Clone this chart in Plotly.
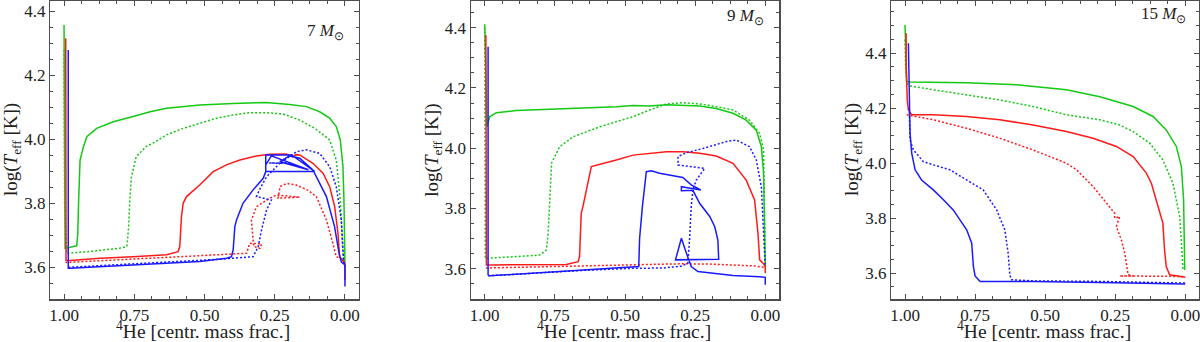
import plotly.graph_objects as go

# ---------------- Panel 1 : 7 Msun ----------------
p7_gs_x = [1.0, 0.9995, 0.9964, 0.955, 0.951, 0.948, 0.943, 0.931, 0.919, 0.884, 0.825, 0.754, 0.694, 0.635, 0.517, 0.398, 0.280, 0.197, 0.137, 0.090, 0.0545, 0.0308, 0.0166, 0.0071, 0.0036, 0.0]
p7_gs_y = [4.357, 4.0, 3.659, 3.667, 3.706, 3.81, 3.935, 3.977, 4.008, 4.034, 4.055, 4.071, 4.086, 4.097, 4.107, 4.112, 4.115, 4.109, 4.102, 4.086, 4.066, 4.040, 3.998, 3.915, 3.81, 3.612]
p7_gd_x = [1.0, 0.998, 0.99, 0.90, 0.80, 0.777, 0.775, 0.770, 0.766, 0.760, 0.743, 0.708, 0.673, 0.655, 0.635, 0.576, 0.517, 0.457, 0.398, 0.339, 0.280, 0.220, 0.161, 0.107, 0.0545, 0.0308, 0.0166, 0.0071, 0.0024]
p7_gd_y = [4.28, 3.80, 3.644, 3.650, 3.660, 3.665, 3.675, 3.727, 3.81, 3.883, 3.946, 3.977, 3.993, 4.003, 4.014, 4.034, 4.05, 4.066, 4.076, 4.083, 4.083, 4.079, 4.060, 4.034, 3.998, 3.935, 3.81, 3.644, 3.61]
p7_rs_x = [0.994, 0.993, 0.979, 0.872, 0.754, 0.635, 0.594, 0.588, 0.582, 0.576, 0.564, 0.517, 0.469, 0.422, 0.374, 0.315, 0.268, 0.209, 0.185, 0.175, 0.161, 0.114, 0.078, 0.0545, 0.0367, 0.0249, 0.019, 0.0071, 0.0, 0.0]
p7_rs_y = [4.316, 3.621, 3.621, 3.628, 3.633, 3.639, 3.649, 3.665, 3.758, 3.80, 3.821, 3.857, 3.899, 3.92, 3.935, 3.948, 3.953, 3.954, 3.945, 3.952, 3.951, 3.925, 3.894, 3.852, 3.79, 3.706, 3.633, 3.618, 3.612, 3.56]
p7_rd_x = [0.995, 0.90, 0.75, 0.588, 0.45, 0.35, 0.339, 0.297, 0.302, 0.325, 0.333, 0.315, 0.279, 0.244, 0.161, 0.238, 0.231, 0.208, 0.173, 0.13, 0.102, 0.066, 0.043, 0.031, 0.007, 0.0]
p7_rd_y = [3.615, 3.620, 3.626, 3.633, 3.640, 3.644, 3.675, 3.673, 3.659, 3.665, 3.748, 3.789, 3.81, 3.826, 3.819, 3.816, 3.852, 3.862, 3.857, 3.84, 3.821, 3.748, 3.675, 3.633, 3.625, 3.61]
p7_bs_x = [0.985, 0.985, 0.978, 0.754, 0.517, 0.422, 0.404, 0.398, 0.392, 0.386, 0.363, 0.327, 0.291, 0.282, 0.282, 0.19, 0.108, 0.282, 0.282, 0.262, 0.13, 0.232, 0.197, 0.161, 0.114, 0.066, 0.037, 0.021, 0.013, 0.0, 0.0]
p7_bs_y = [4.279, 3.597, 3.597, 3.607, 3.618, 3.628, 3.633, 3.654, 3.727, 3.748, 3.80, 3.842, 3.878, 3.899, 3.951, 3.951, 3.90, 3.899, 3.92, 3.948, 3.905, 3.93, 3.948, 3.941, 3.904, 3.821, 3.727, 3.644, 3.617, 3.607, 3.54]
p7_bd_x = [0.985, 0.80, 0.60, 0.45, 0.327, 0.309, 0.297, 0.279, 0.262, 0.315, 0.300, 0.279, 0.232, 0.27, 0.19, 0.232, 0.173, 0.137, 0.09, 0.054, 0.031, 0.013, 0.005, 0.0]
p7_bd_y = [3.600, 3.608, 3.617, 3.625, 3.633, 3.664, 3.717, 3.779, 3.81, 3.821, 3.85, 3.883, 3.925, 3.926, 3.926, 3.925, 3.961, 3.967, 3.956, 3.914, 3.852, 3.748, 3.623, 3.602]

# ---------------- Panel 2 : 9 Msun ----------------
p9_gs_x = [1.0, 0.996, 0.992, 0.982, 0.958, 0.887, 0.768, 0.650, 0.531, 0.471, 0.412, 0.353, 0.293, 0.234, 0.175, 0.115, 0.068, 0.032, 0.014, 0.006, 0.0]
p9_gs_y = [4.412, 4.20, 4.071, 4.105, 4.118, 4.125, 4.129, 4.134, 4.138, 4.142, 4.14, 4.144, 4.142, 4.14, 4.132, 4.116, 4.093, 4.06, 4.005, 3.916, 3.607]
p9_gd_x = [1.0, 0.998, 0.887, 0.804, 0.780, 0.774, 0.768, 0.762, 0.733, 0.685, 0.590, 0.471, 0.412, 0.353, 0.293, 0.234, 0.175, 0.115, 0.056, 0.020, 0.006, 0.0]
p9_gd_y = [4.40, 3.634, 3.64, 3.645, 3.662, 3.717, 3.828, 3.95, 4.005, 4.038, 4.071, 4.105, 4.127, 4.147, 4.151, 4.147, 4.138, 4.127, 4.093, 4.049, 3.994, 3.607]
p9_rs_x = [0.996, 0.994, 0.970, 0.828, 0.709, 0.667, 0.662, 0.656, 0.650, 0.620, 0.590, 0.531, 0.471, 0.412, 0.353, 0.293, 0.234, 0.175, 0.115, 0.068, 0.038, 0.026, 0.020, 0.008, 0.0, 0.0]
p9_rs_y = [4.376, 3.612, 3.612, 3.614, 3.614, 3.623, 3.64, 3.784, 3.806, 3.939, 3.946, 3.961, 3.977, 3.983, 3.988, 3.988, 3.983, 3.974, 3.95, 3.894, 3.828, 3.717, 3.629, 3.618, 3.607, 3.585]
p9_rd_x = [0.996, 0.90, 0.80, 0.65, 0.50, 0.40, 0.30, 0.20, 0.10, 0.04, 0.0]
p9_rd_y = [3.602, 3.604, 3.606, 3.608, 3.611, 3.614, 3.616, 3.615, 3.612, 3.609, 3.604]
p9_bs_x = [0.988, 0.988, 0.982, 0.828, 0.650, 0.471, 0.451, 0.448, 0.438, 0.424, 0.406, 0.377, 0.353, 0.329, 0.294, 0.264, 0.230, 0.299, 0.299, 0.258, 0.234, 0.198, 0.180, 0.169, 0.166, 0.320, 0.299, 0.281, 0.264, 0.240, 0.115, 0.02, 0.0, 0.0]
p9_bs_y = [4.337, 3.579, 3.576, 3.585, 3.596, 3.605, 3.607, 3.70, 3.806, 3.922, 3.925, 3.917, 3.913, 3.911, 3.903, 3.878, 3.861, 3.872, 3.859, 3.86, 3.817, 3.773, 3.739, 3.695, 3.631, 3.629, 3.701, 3.651, 3.607, 3.590, 3.577, 3.573, 3.571, 3.546]
p9_bd_x = [0.988, 0.828, 0.65, 0.471, 0.365, 0.30, 0.276, 0.270, 0.264, 0.258, 0.246, 0.216, 0.311, 0.311, 0.281, 0.222, 0.139, 0.103, 0.056, 0.032, 0.014, 0.006, 0.0]
p9_bd_y = [3.576, 3.585, 3.594, 3.601, 3.602, 3.608, 3.618, 3.695, 3.806, 3.861, 3.894, 3.933, 3.944, 3.972, 3.985, 3.999, 4.022, 4.027, 4.005, 3.961, 3.872, 3.717, 3.607]

# ---------------- Panel 3 : 15 Msun ----------------
p15_gs_x = [1.0, 0.994, 0.982, 0.780, 0.602, 0.424, 0.305, 0.186, 0.115, 0.068, 0.032, 0.014, 0.006, 0.002]
p15_gs_y = [4.503, 4.297, 4.295, 4.293, 4.285, 4.267, 4.242, 4.206, 4.170, 4.121, 4.061, 3.988, 3.867, 3.612]
p15_gd_x = [1.0, 0.998, 0.994, 0.982, 0.899, 0.780, 0.662, 0.543, 0.424, 0.305, 0.234, 0.186, 0.127, 0.080, 0.044, 0.020, 0.008]
p15_gd_y = [4.45, 4.352, 4.291, 4.281, 4.267, 4.248, 4.230, 4.206, 4.176, 4.158, 4.139, 4.115, 4.073, 4.012, 3.927, 3.806, 3.612]
p15_rs_x = [0.996, 0.996, 0.992, 0.988, 0.976, 0.899, 0.780, 0.662, 0.543, 0.424, 0.329, 0.246, 0.186, 0.139, 0.121, 0.097, 0.080, 0.074, 0.068, 0.056, 0.0]
p15_rs_y = [4.473, 4.352, 4.23, 4.194, 4.176, 4.176, 4.17, 4.158, 4.139, 4.115, 4.091, 4.061, 4.024, 3.964, 3.927, 3.842, 3.782, 3.685, 3.624, 3.594, 3.585]
p15_rd_x = [0.994, 0.899, 0.780, 0.662, 0.543, 0.424, 0.388, 0.329, 0.281, 0.252, 0.252, 0.234, 0.246, 0.228, 0.216, 0.204, 0.186, 0.234, 0.186, 0.068, 0.0]
p15_rd_y = [4.176, 4.158, 4.127, 4.091, 4.048, 4.0, 3.976, 3.915, 3.855, 3.818, 3.80, 3.806, 3.77, 3.721, 3.673, 3.594, 3.59, 3.59, 3.59, 3.59, 3.588]
p15_bs_x = [0.988, 0.985, 0.982, 0.976, 0.964, 0.941, 0.899, 0.863, 0.828, 0.780, 0.762, 0.756, 0.750, 0.732, 0.543, 0.305, 0.0]
p15_bs_y = [4.436, 4.23, 4.109, 4.036, 3.976, 3.939, 3.903, 3.867, 3.83, 3.758, 3.709, 3.624, 3.59, 3.57, 3.57, 3.566, 3.561]
p15_bd_x = [0.985, 0.982, 0.970, 0.935, 0.899, 0.840, 0.780, 0.721, 0.673, 0.644, 0.632, 0.626, 0.620, 0.543, 0.305, 0.0]
p15_bd_y = [4.20, 4.085, 4.048, 4.006, 3.994, 3.976, 3.939, 3.903, 3.83, 3.758, 3.673, 3.594, 3.576, 3.572, 3.57, 3.564]

mass_labels = ["7", "9", "15"]
x_tick_vals = [1.0, 0.75, 0.5, 0.25, 0.0]
y_tick_vals = [3.6, 3.8, 4.0, 4.2, 4.4]

GREEN = "#14c814"
RED = "#ff1a1a"
BLUE = "#1a1aff"
DOT = "2px,2px"

panels = [
    [(p7_gs_x, p7_gs_y, GREEN, "solid"), (p7_gd_x, p7_gd_y, GREEN, DOT),
     (p7_rs_x, p7_rs_y, RED, "solid"), (p7_rd_x, p7_rd_y, RED, DOT),
     (p7_bs_x, p7_bs_y, BLUE, "solid"), (p7_bd_x, p7_bd_y, BLUE, DOT)],
    [(p9_gs_x, p9_gs_y, GREEN, "solid"), (p9_gd_x, p9_gd_y, GREEN, DOT),
     (p9_rs_x, p9_rs_y, RED, "solid"), (p9_rd_x, p9_rd_y, RED, DOT),
     (p9_bs_x, p9_bs_y, BLUE, "solid"), (p9_bd_x, p9_bd_y, BLUE, DOT)],
    [(p15_gs_x, p15_gs_y, GREEN, "solid"), (p15_gd_x, p15_gd_y, GREEN, DOT),
     (p15_rs_x, p15_rs_y, RED, "solid"), (p15_rd_x, p15_rd_y, RED, DOT),
     (p15_bs_x, p15_bs_y, BLUE, "solid"), (p15_bd_x, p15_bd_y, BLUE, DOT)],
]

W, H = 1200, 342
x_domains_px = [(50, 359), (470.7, 779.3), (891, 1199.3)]
y_ranges = [[3.5, 4.433], [3.498, 4.49], [3.505, 4.591]]
y_dom = [(H - 299.3) / H, 1 - 0.7 / H]

FONT = "Liberation Serif"
AX = "#4d4d4d"

fig = go.Figure()
layout = dict(width=W, height=H, margin=dict(l=0, r=0, t=0, b=0, pad=0, autoexpand=False),
              plot_bgcolor="white", paper_bgcolor="white", showlegend=False,
              font=dict(family=FONT, color="#222"))
annotations = []
for i, series in enumerate(panels):
    xa = "x" if i == 0 else f"x{i+1}"
    ya = "y" if i == 0 else f"y{i+1}"
    for sx, sy, col, dash in series:
        fig.add_trace(go.Scatter(x=sx, y=sy, mode="lines", xaxis=xa, yaxis=ya,
                                 line=dict(color=col, width=1.5, dash=dash),
                                 hoverinfo="skip"))
    x0, x1 = x_domains_px[i]
    common = dict(ticks="inside", ticklen=5, tickwidth=1, tickcolor=AX,
                  showline=True, linecolor=AX, linewidth=1.2, mirror="allticks",
                  showgrid=False, zeroline=False, automargin=False,
                  ticklabeloverflow="allow",
                  tickfont=dict(family=FONT, size=17, color="#222"))
    xkey = "xaxis" if i == 0 else f"xaxis{i+1}"
    ykey = "yaxis" if i == 0 else f"yaxis{i+1}"
    layout[xkey] = dict(domain=[x0 / W, x1 / W], range=[1.05, -0.05], anchor=ya,
                        tickvals=x_tick_vals, ticktext=[f"{v:.2f}" for v in x_tick_vals],
                        minor=dict(dtick=0.0625, tick0=0, ticks="inside", ticklen=3,
                                   tickwidth=1, tickcolor=AX),
                        **common)
    layout[ykey] = dict(domain=list(y_dom), range=y_ranges[i], anchor=xa,
                        tickvals=y_tick_vals, ticktext=[f"{v:.1f}" for v in y_tick_vals],
                        minor=dict(dtick=0.05, tick0=0, ticks="inside", ticklen=3,
                                   tickwidth=1, tickcolor=AX),
                        **common)
    # x title
    annotations.append(dict(x=(x0 + x1) / 2 / W - 0.001, y=(H - 330) / H, xref="paper", yref="paper",
                            text="<sup>4</sup>He [centr. mass frac.]", showarrow=False,
                            xanchor="center", yanchor="middle",
                            font=dict(family=FONT, size=19.5, color="#222")))
    # y title
    annotations.append(dict(x=(x0 - 38) / W, y=(H - 150) / H, xref="paper", yref="paper",
                            text="log(<i>T</i><sub>eff</sub> [K])", showarrow=False, textangle=-90,
                            xanchor="center", yanchor="middle",
                            font=dict(family=FONT, size=19, color="#222")))

label_pos = [(346, 32), (766, 17), (1188, 15)]
for (px, py), m in zip(label_pos, mass_labels):
    annotations.append(dict(x=px / W, y=(H - py) / H, xref="paper", yref="paper",
                            text=f"{m} <i>M</i><sub>⊙</sub>", showarrow=False,
                            xanchor="right", yanchor="middle",
                            font=dict(family=FONT, size=17, color="#222")))

layout["annotations"] = annotations
fig.update_layout(**layout)
fig.write_html("out.html", config={"displayModeBar": False, "staticPlot": True},
               post_script="document.body.style.margin='0';document.body.style.overflow='hidden';")
